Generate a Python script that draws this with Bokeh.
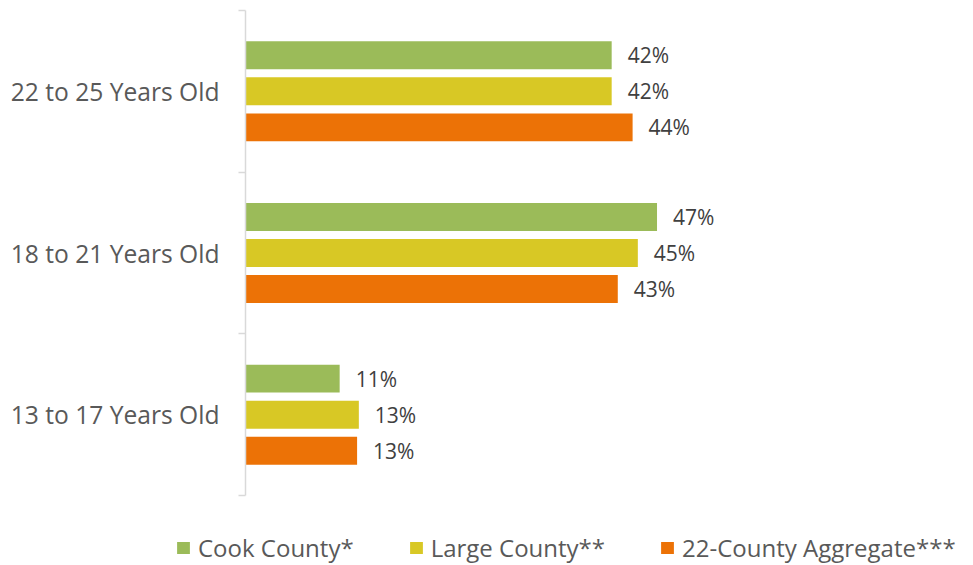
from bokeh.plotting import figure
from bokeh.layouts import column, row
from bokeh.models import (ColumnDataSource, Range1d, FixedTicker, Legend, LegendItem,
                          LinearAxis)
from bokeh.transform import dodge
from bokeh.core.properties import value
from bokeh.embed import file_html
from bokeh.resources import INLINE

# Data (bottom to top)
age_groups = ["13 to 17 Years Old", "18 to 21 Years Old", "22 to 25 Years Old"]
series_names = ["Cook County*", "Large County**", "22-County Aggregate***"]
cook = [10.8, 47.2, 42.0]
large = [13.0, 45.0, 42.0]
aggregate = [12.8, 42.7, 44.4]
colors = ["#9BBB59", "#D8C825", "#EC7206"]

FONT = "Open Sans"
pos = [i + 0.5 for i in range(len(age_groups))]

p = figure(width=973, height=515, output_backend="svg", toolbar_location=None,
           x_range=Range1d(0, 83.5), y_range=Range1d(0, 3),
           min_border_left=245, min_border_right=0, min_border_top=10, min_border_bottom=20,
           y_axis_location=None, x_axis_location=None)
p.outline_line_color = None
p.xgrid.visible = False
p.ygrid.visible = False
p.background_fill_color = "white"
p.border_fill_color = "white"

# y axis with boundary ticks (minor) and centered labels (major)
yax = LinearAxis(ticker=FixedTicker(ticks=pos, minor_ticks=[0, 1, 2, 3]))
yax.major_label_overrides = {pp: g for pp, g in zip(pos, age_groups)}
yax.major_tick_line_color = None
yax.major_tick_out = 0
yax.major_tick_in = 0
yax.minor_tick_line_color = "#D9D9D9"
yax.minor_tick_line_width = 1.5
yax.minor_tick_out = 7
yax.minor_tick_in = 0
yax.axis_line_color = "#D9D9D9"
yax.axis_line_width = 1.5
yax.major_label_text_font = FONT
yax.major_label_text_font_size = "24.6px"
yax.major_label_text_color = "#595959"
yax.major_label_standoff = 19
p.add_layout(yax, "left")

bar_h = 0.173
step = 0.223
offsets = [step, 0.0, -step]
vals_all = [cook, large, aggregate]

sources = []
for name, vals, col, off in zip(series_names, vals_all, colors, offsets):
    src = ColumnDataSource(dict(pos=pos, val=vals,
                                lab=[f"{round(v)}%" for v in vals]))
    sources.append(src)
    p.hbar(y=dodge("pos", off, range=p.y_range), left=0, right="val",
           height=bar_h, source=src, fill_color=col, line_color=None)
    p.text(x="val", y=dodge("pos", off, range=p.y_range), text="lab", source=src,
           x_offset=16, text_font=value(FONT), text_font_size="21px",
           text_color="#404040", text_baseline="middle", text_align="left")

# Legend strip (series drawn out of view; only the legend shows)
lp = figure(width=973, height=50, output_backend="svg", toolbar_location=None,
            x_range=Range1d(0, 83.5), y_range=Range1d(10, 11),
            min_border_left=0, min_border_right=0, min_border_top=0, min_border_bottom=0,
            x_axis_location=None, y_axis_location=None)
lp.outline_line_color = None
lp.grid.visible = False
items = []
for name, col, src in zip(series_names, colors, sources):
    r = lp.hbar(y="pos", left=0, right="val", height=bar_h, source=src,
                fill_color=col, line_color=None)
    items.append(LegendItem(label=name, renderers=[r]))
legend = Legend(items=items, orientation="horizontal", location=(175, 1),
                glyph_width=16, glyph_height=15, label_standoff=7, spacing=54,
                padding=0, margin=0, border_line_color=None,
                background_fill_alpha=0, label_height=30,
                label_text_font=FONT, label_text_font_size="24px",
                label_text_color="#595959")
lp.add_layout(legend)

layout = column(p, row(lp), spacing=0)
open("out.html", "w").write(file_html(layout, INLINE))
